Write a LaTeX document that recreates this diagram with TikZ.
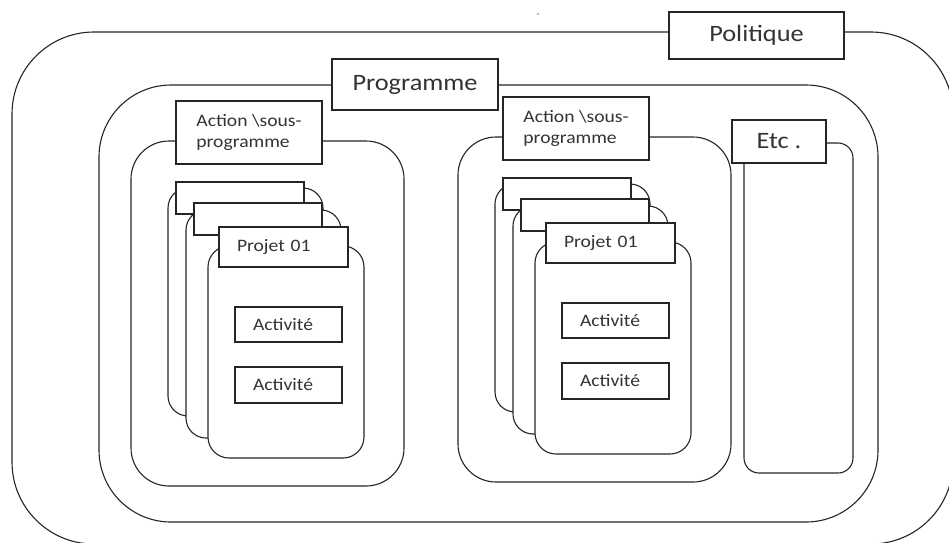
\documentclass[tikz,border=0pt]{standalone}
\usepackage{fontspec}
\setmainfont{Carlito}[FakeStretch=1.12]
\newcommand{\fBig}{\fontsize{23.5}{28}\selectfont}
\newcommand{\fSmall}{\fontsize{17.5}{21}\selectfont}
\newcommand{\ActGroup}[1]{%
  \node[cont, rounded corners=38pt, bb={131}{141}{404}{486}] (actC#1) {};
  \node[tbox, bb={176}{101}{322}{164}, align=left, font=\fSmall] (act#1) {Action \textbackslash sous-\\programme};
  \node[cont, rounded corners=20pt, bb={168}{188}{323}{416}] (cardCa#1) {};
  \node[cont, bb={176}{182}{304}{214}] (carda#1) {};
  \node[cont, rounded corners=20pt, bb={186}{210}{341}{438}] (cardCb#1) {};
  \node[cont, bb={194}{203}{322}{235}] (cardb#1) {};
  \node[cont, rounded corners=21pt, bb={208}{246}{364}{458}] (cardCc#1) {};
  \node[tbox, bb={219}{227}{348}{267}, text width=93pt, align=left, font=\fSmall] (cardc#1) {Projet 01};
  \node[tbox, bb={235}{307}{342}{342}, text width=71pt, align=left, font=\fSmall] (actiA#1) {Activité};
  \node[tbox, bb={235}{367}{342}{403}, text width=71pt, align=left, font=\fSmall] (actiB#1) {Activité};
}
\begin{document}
\begin{tikzpicture}[x=1pt, y=-1pt,
  cont/.style={draw=black!85, line width=1.1pt, fill=white, inner sep=0pt, outer sep=0pt},
  tbox/.style={cont, text=black!80},
  bb/.style n args={4}{at={({(#1+#3)/2},{(#2+#4)/2})}, minimum width={(#3)-(#1)}, minimum height={(#4)-(#2)}}]
\useasboundingbox (0,0) rectangle (949,542);
% outer : Politique
\node[cont, rounded corners=82pt, bb={12}{32}{953}{544}] (polC) {};
\node[tbox, bb={669}{12}{844}{59}, font=\fBig] (pol) {Politique};
% Programme
\node[cont, rounded corners=72pt, bb={99}{85}{878}{522}] (progC) {};
\node[tbox, bb={332}{59}{498}{110}, font=\fBig] (prog) {Programme};
% action groups
\ActGroup{a}
\begin{scope}[shift={(327,-4)}]
\ActGroup{b}
\end{scope}
% Etc
\node[cont, rounded corners=15pt, bb={744}{143}{853}{473}] (etcC) {};
\node[tbox, bb={732}{120}{826}{163}, font=\fBig] (etc) {Etc .};
% stray dot
\fill[blue!60] (538,14) circle (0.8pt);
\end{tikzpicture}
\end{document}
